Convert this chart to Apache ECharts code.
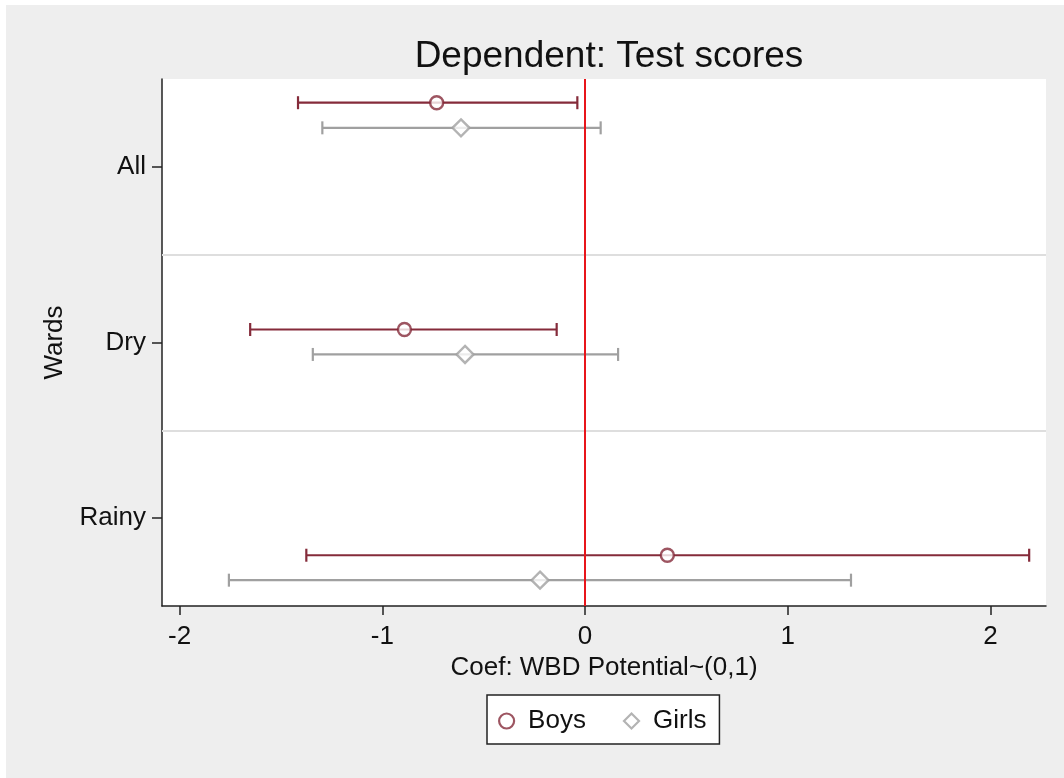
<!DOCTYPE html>
<html>
<head>
<meta charset="utf-8">
<script src="https://cdn.jsdelivr.net/npm/echarts@6/dist/echarts.min.js"></script>
<style>
  html, body { margin: 0; padding: 0; background: #ffffff; }
  #chart { width: 1064px; height: 778px; }
</style>
</head>
<body>
<div id="chart"></div>
<script>
// Ward groups shown on the vertical axis (row 1 = top)
const wardLabels = ['All', 'Dry', 'Rainy'];
const wardRows = [1, 2, 3];

// Coefficient estimates and 95% confidence bounds
const boysCoef = [-0.732, -0.891, 0.406];
const boysLow = [-1.416, -1.652, -1.375];
const boysHigh = [-0.038, -0.140, 2.191];
const boysRow = [0.635, 1.926, 3.211];

const girlsCoef = [-0.612, -0.592, -0.222];
const girlsLow = [-1.296, -1.343, -1.757];
const girlsHigh = [0.077, 0.163, 1.312];
const girlsRow = [0.778, 2.068, 3.353];

const xTicks = [-2, -1, 0, 1, 2];
const rowSeparators = [1.5, 2.5];

const BOYS = '#852b3a';
const GIRLS = '#a0a0a0';
const FONT = '"Liberation Sans", Arial, sans-serif';

const chart = echarts.init(document.getElementById('chart'));

function ciSeries(name, low, high, row, color) {
  return {
    name: name,
    type: 'custom',
    silent: true,
    data: low.map((l, i) => [l, high[i], row[i]]),
    encode: { x: [0, 1], y: 2 },
    renderItem: function (params, api) {
      const a = api.coord([api.value(0), api.value(2)]);
      const b = api.coord([api.value(1), api.value(2)]);
      const h = 6.5;
      const style = { stroke: color, lineWidth: 2.2 };
      return {
        type: 'group',
        children: [
          { type: 'line', shape: { x1: a[0], y1: a[1], x2: b[0], y2: b[1] }, style: style },
          { type: 'line', shape: { x1: a[0], y1: a[1] - h, x2: a[0], y2: a[1] + h }, style: style },
          { type: 'line', shape: { x1: b[0], y1: b[1] - h, x2: b[0], y2: b[1] + h }, style: style }
        ]
      };
    },
    z: 3
  };
}

const option = {
  backgroundColor: '#ffffff',
  animation: false,
  textStyle: { fontFamily: FONT },
  graphic: [{
    type: 'rect',
    z: -10,
    shape: { x: 6, y: 5, width: 1058, height: 773 },
    style: { fill: '#eeeeee' },
    silent: true
  }],
  title: {
    text: 'Dependent: Test scores',
    left: 604,
    textAlign: 'center',
    top: 33,
    textStyle: { fontFamily: FONT, fontSize: 37, fontWeight: 'normal', color: '#111111' }
  },
  grid: {
    left: 162, right: 18, top: 79, bottom: 172,
    show: true, backgroundColor: '#ffffff', borderWidth: 0
  },
  legend: {
    left: 487, top: 695,
    padding: [13, 13, 10, 11],
    itemGap: 37,
    itemWidth: 15, itemHeight: 15,
    backgroundColor: '#ffffff',
    borderColor: '#222222',
    borderWidth: 1.5,
    borderRadius: 0,
    textStyle: { fontFamily: FONT, fontSize: 26, color: '#111111', padding: [0, 0, 0, 9] },
    data: [
      { name: 'Boys', icon: 'circle', itemStyle: { color: '#ffffff', borderColor: BOYS, borderWidth: 2.2 } },
      { name: 'Girls', icon: 'diamond', itemStyle: { color: '#ffffff', borderColor: GIRLS, borderWidth: 2.2 } }
    ]
  },
  xAxis: {
    type: 'value',
    min: -2.087,
    max: 2.274,
    name: 'Coef: WBD Potential~(0,1)',
    nameLocation: 'middle',
    nameGap: 47,
    nameTextStyle: { fontFamily: FONT, fontSize: 26, color: '#111111' },
    axisLine: { show: true, onZero: false, lineStyle: { color: '#222222', width: 1.5 } },
    axisTick: { show: true, length: 9, customValues: xTicks, lineStyle: { color: '#222222', width: 1.5 } },
    axisLabel: { customValues: xTicks, fontFamily: FONT, fontSize: 26, color: '#111111', margin: 18,
      formatter: v => String(v) },
    splitLine: { show: false }
  },
  yAxis: {
    type: 'value',
    inverse: true,
    min: 0.5,
    max: 3.5,
    name: 'Wards',
    nameLocation: 'middle',
    nameGap: 94,
    nameRotate: 90,
    nameTextStyle: { fontFamily: FONT, fontSize: 26, color: '#111111' },
    axisLine: { show: true, onZero: false, lineStyle: { color: '#222222', width: 1.5 } },
    axisTick: { show: true, length: 10, customValues: wardRows, lineStyle: { color: '#222222', width: 1.5 } },
    axisLabel: { customValues: wardRows, fontFamily: FONT, fontSize: 26, color: '#111111', margin: 16,
      formatter: v => wardLabels[wardRows.indexOf(Math.round(v))] || '' },
    splitLine: { show: false }
  },
  series: [
    {
      name: 'separators',
      type: 'line',
      data: [],
      silent: true,
      markLine: {
        silent: true,
        symbol: 'none',
        label: { show: false },
        lineStyle: { color: '#dedede', width: 2, type: 'solid' },
        data: rowSeparators.map(v => ({ yAxis: v }))
      },
      z: 1
    },
    {
      name: 'zero',
      type: 'line',
      data: [],
      silent: true,
      markLine: {
        silent: true,
        symbol: 'none',
        label: { show: false },
        lineStyle: { color: '#e8151b', width: 2, type: 'solid' },
        data: [{ xAxis: 0 }]
      },
      z: 2
    },
    ciSeries('Boys CI', boysLow, boysHigh, boysRow, BOYS),
    ciSeries('Girls CI', girlsLow, girlsHigh, girlsRow, GIRLS),
    {
      name: 'Boys',
      type: 'scatter',
      symbol: 'circle',
      symbolSize: 13,
      itemStyle: { color: '#ffffff', borderColor: BOYS, borderWidth: 2.4 },
      data: boysCoef.map((c, i) => [c, boysRow[i]]),
      z: 5
    },
    {
      name: 'Girls',
      type: 'scatter',
      symbol: 'diamond',
      symbolSize: [17, 17],
      itemStyle: { color: '#ffffff', borderColor: GIRLS, borderWidth: 2.4 },
      data: girlsCoef.map((c, i) => [c, girlsRow[i]]),
      z: 5
    }
  ]
};

chart.setOption(option);
</script>
</body>
</html>
